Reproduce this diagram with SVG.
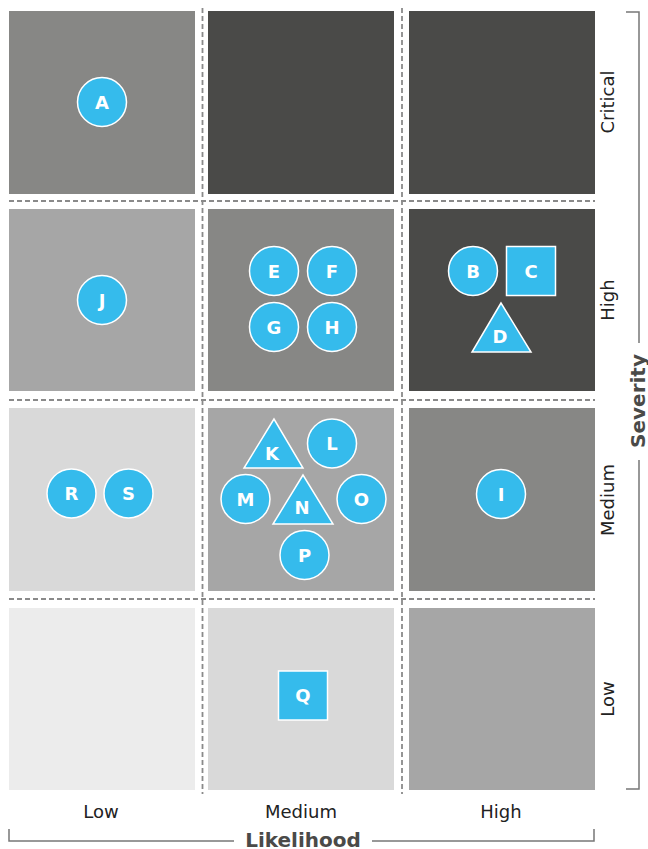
<svg xmlns="http://www.w3.org/2000/svg" width="648" height="849" viewBox="0 0 648 849">
<style>
.c1{fill:#ececec}.c2{fill:#d9d9d9}.c3{fill:#a6a6a6}.c4{fill:#878785}.c5{fill:#4a4a48}
.dash{stroke:#8a8a8a;stroke-width:1.8;stroke-dasharray:5 3;fill:none}
.axis{stroke:#777;stroke-width:1.5;fill:none}
.mk{fill:#35bbec;stroke:#fff;stroke-width:1.5}
.lt{font-family:"DejaVu Sans",sans-serif;font-weight:bold;font-size:18px;fill:#fff;text-anchor:middle}
.lab{font-family:"DejaVu Sans",sans-serif;font-size:18px;fill:#222;text-anchor:middle}
.ttl{font-family:"DejaVu Sans",sans-serif;font-weight:bold;font-size:20px;fill:#4a4a48;text-anchor:middle}
</style>
<rect width="648" height="849" fill="#fff"/>
<g id="cells">
<rect class="c4" x="9" y="11" width="186" height="183"/>
<rect class="c5" x="208" y="11" width="186" height="183"/>
<rect class="c5" x="409" y="11" width="186" height="183"/>
<rect class="c3" x="9" y="209" width="186" height="182"/>
<rect class="c4" x="208" y="209" width="186" height="182"/>
<rect class="c5" x="409" y="209" width="186" height="182"/>
<rect class="c2" x="9" y="408" width="186" height="183"/>
<rect class="c3" x="208" y="408" width="186" height="183"/>
<rect class="c4" x="409" y="408" width="186" height="183"/>
<rect class="c1" x="9" y="608" width="186" height="182"/>
<rect class="c2" x="208" y="608" width="186" height="182"/>
<rect class="c3" x="409" y="608" width="186" height="182"/>
</g>
<g id="gridlines">
<line class="dash" x1="9" y1="201" x2="595" y2="201"/>
<line class="dash" x1="9" y1="400" x2="595" y2="400"/>
<line class="dash" x1="9" y1="599" x2="595" y2="599"/>
<line class="dash" x1="202.5" y1="8" x2="202.5" y2="794"/>
<line class="dash" x1="402" y1="8" x2="402" y2="794"/>
</g>
<g id="axes">
<path class="axis" d="M626 12H639V343M639 460V789H626"/>
<path class="axis" d="M9 829V841H234M372 841H594V829"/>
<text class="ttl" x="303" y="847">Likelihood</text>
<text class="ttl" transform="translate(645 401) rotate(-90)">Severity</text>
<text class="lab" x="101" y="818">Low</text>
<text class="lab" x="301" y="818">Medium</text>
<text class="lab" x="501" y="818">High</text>
<text class="lab" transform="translate(614 102) rotate(-90)">Critical</text>
<text class="lab" transform="translate(614 300) rotate(-90)">High</text>
<text class="lab" transform="translate(614 500) rotate(-90)">Medium</text>
<text class="lab" transform="translate(614 699) rotate(-90)">Low</text>
</g>
<g id="A"><circle class="mk" cx="102" cy="102" r="24.5"/><text class="lt" x="102" y="108.5">A</text></g>
<g id="J"><circle class="mk" cx="102" cy="300" r="24.5"/><text class="lt" x="102" y="306.5">J</text></g>
<g id="E"><circle class="mk" cx="274" cy="271" r="24.5"/><text class="lt" x="274" y="277.5">E</text></g>
<g id="F"><circle class="mk" cx="332" cy="271" r="24.5"/><text class="lt" x="332" y="277.5">F</text></g>
<g id="G"><circle class="mk" cx="274" cy="327" r="24.5"/><text class="lt" x="274" y="333.5">G</text></g>
<g id="H"><circle class="mk" cx="332" cy="327" r="24.5"/><text class="lt" x="332" y="333.5">H</text></g>
<g id="B"><circle class="mk" cx="473" cy="271" r="24.5"/><text class="lt" x="473" y="277.5">B</text></g>
<g id="C"><rect class="mk" x="506.5" y="246.5" width="49" height="49"/><text class="lt" x="531" y="277.5">C</text></g>
<g id="D"><polygon class="mk" points="501,303 472,352 531,352"/><text class="lt" x="500" y="343">D</text></g>
<g id="K"><polygon class="mk" points="274,419 244,468 303,468"/><text class="lt" x="272" y="460">K</text></g>
<g id="L"><circle class="mk" cx="332" cy="443.5" r="24.5"/><text class="lt" x="332" y="450">L</text></g>
<g id="M"><circle class="mk" cx="245.5" cy="499" r="24.5"/><text class="lt" x="245.5" y="505.5">M</text></g>
<g id="N"><polygon class="mk" points="303,475 273,524 333,524"/><text class="lt" x="302" y="514">N</text></g>
<g id="O"><circle class="mk" cx="361.5" cy="499" r="24.5"/><text class="lt" x="361.5" y="505.5">O</text></g>
<g id="P"><circle class="mk" cx="304.5" cy="555" r="24.5"/><text class="lt" x="304.5" y="561.5">P</text></g>
<g id="R"><circle class="mk" cx="71.5" cy="493.5" r="24.5"/><text class="lt" x="71.5" y="500">R</text></g>
<g id="S"><circle class="mk" cx="128.5" cy="493.5" r="24.5"/><text class="lt" x="128.5" y="500">S</text></g>
<g id="I"><circle class="mk" cx="501" cy="494" r="24.5"/><text class="lt" x="501" y="500.5">I</text></g>
<g id="Q"><rect class="mk" x="278.5" y="671" width="49" height="49"/><text class="lt" x="303" y="701.5">Q</text></g>
</svg>
